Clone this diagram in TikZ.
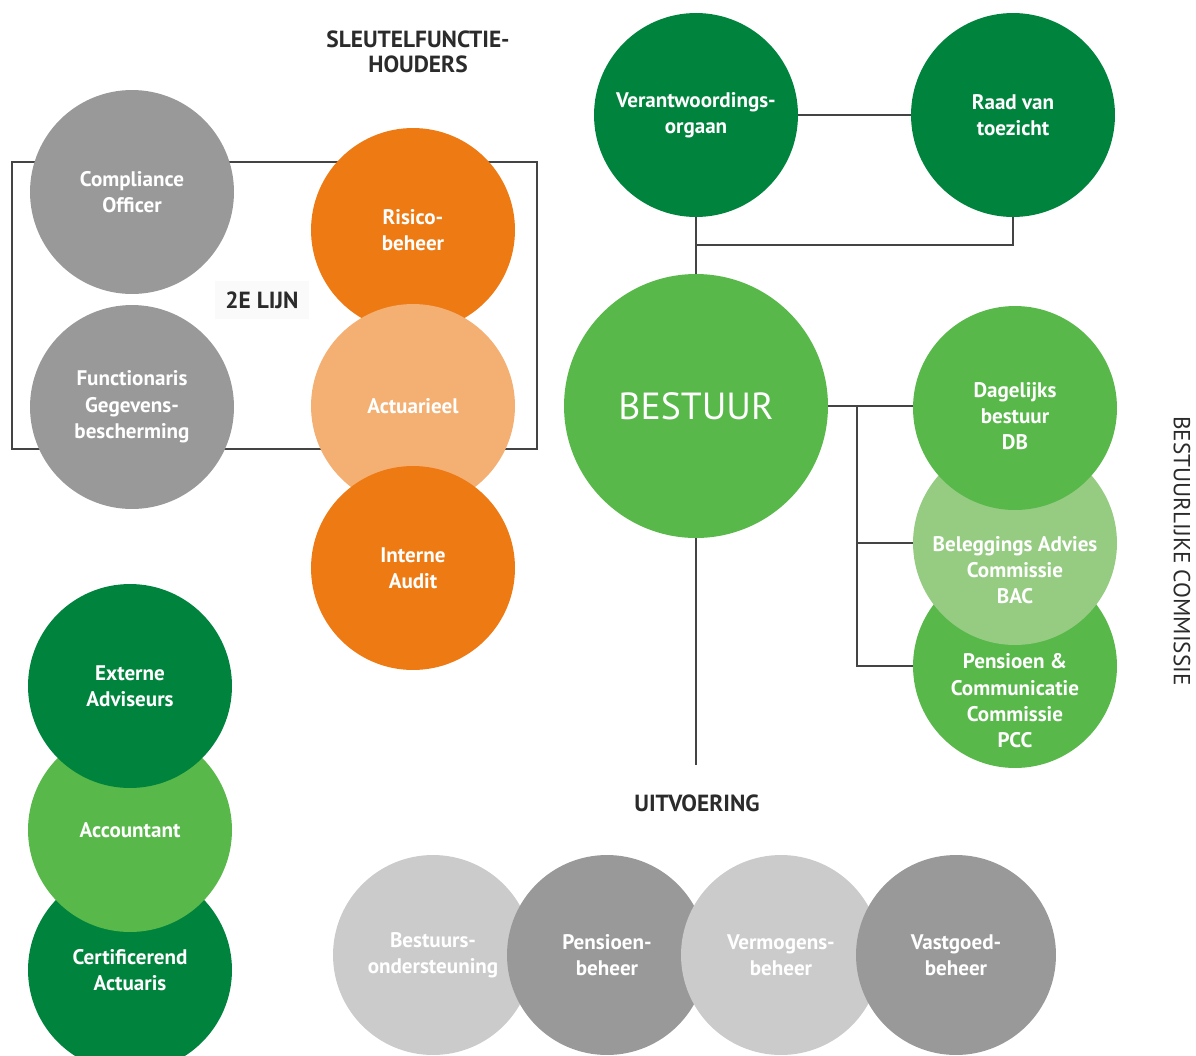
\documentclass[tikz,border=0pt]{standalone}
\usepackage{fontspec}
\setmainfont{PT Sans}
\definecolor{donkergroen}{HTML}{00843D}
\definecolor{middengroen}{HTML}{58B84A}
\definecolor{lichtgroen}{HTML}{95CC82}
\definecolor{oranje}{HTML}{EE7A14}
\definecolor{lichtoranje}{HTML}{F4AF72}
\definecolor{grijs}{HTML}{999999}
\definecolor{lichtgrijs}{HTML}{CBCBCB}
\definecolor{lijngrijs}{HTML}{444444}
\definecolor{tekstgrijs}{HTML}{2B2B2B}

\begin{document}
\begin{tikzpicture}[x=0.02cm, y=-0.02cm,
  tekst/.style={text=white, align=center, font=\bfseries\fontsize{12}{15}\selectfont},
  bol/.style={tekst, circle, minimum size=4.08cm, inner sep=0pt},
  kleinebol/.style={bol, minimum size=4cm},
  lijn/.style={draw=lijngrijs, line width=1.1pt},
  kop/.style={text=tekstgrijs, align=center, font=\bfseries\fontsize{13.3}{14.5}\selectfont}]
  \useasboundingbox (0,0) rectangle (1196,1055);

  \draw[lijn] (12,162) rectangle (537,449);

  \node[kop] (sleutel) at (418,52) {SLEUTELFUNCTIE-\\HOUDERS};
  \node[kop, fill=white!98!black, inner sep=6pt] (lijn2) at (262,300) {2E LIJN};
  \node[bol, fill=grijs] (compliance) at (132,192) {Compliance\\Officer};
  \node[bol, fill=grijs] (functionaris) at (132,407) {Functionaris\\Gegevens-\\bescherming};
  \node[bol, fill=oranje] (risico) at (413,230) {Risico-\\beheer};
  \node[bol, fill=lichtoranje] (actuarieel) at (413,406) {Actuarieel};
  \node[bol, fill=oranje] (audit) at (413,568) {Interne\\Audit};

  \node[bol, fill=donkergroen] (certificerend) at (130,970) {Certificerend\\Actuaris};
  \node[bol, fill=middengroen] (accountant) at (130,830) {Accountant};
  \node[bol, fill=donkergroen] (extern) at (130,686) {Externe\\Adviseurs};

  \node[bol, fill=donkergroen] (vo) at (696,115) {Verantwoordings-\\orgaan};
  \node[bol, fill=donkergroen] (rvt) at (1013,115) {Raad van\\toezicht};
  \node[bol, fill=middengroen, minimum size=5.28cm, font=\fontsize{21.5}{24}\selectfont] (bestuur) at (696,406) {BESTUUR};

  \node[bol, fill=middengroen] (pcc) at (1015,666) {};
  \node[tekst] (pcctekst) at (1015,701) {Pensioen \&\\Communicatie\\Commissie\\PCC};
  \node[bol, fill=lichtgroen] (bac) at (1015,543) {};
  \node[tekst] (bactekst) at (1015,570) {Beleggings Advies\\Commissie\\BAC};
  \node[bol, fill=middengroen] (db) at (1015,408) {};
  \node[tekst] (dbtekst) at (1015,416) {Dagelijks\\bestuur\\DB};
  \node[kop, font=\fontsize{13.2}{14}\selectfont, rotate=-90] (commissie) at (1182,551) {BESTUURLIJKE COMMISSIE};

  \node[kop] (uitvoering) at (697,803) {UITVOERING};
  \node[kleinebol, fill=lichtgrijs] (ondersteuning) at (433,955) {Bestuurs-\\ondersteuning};
  \node[kleinebol, fill=grijs] (pensioen) at (607,955) {Pensioen-\\beheer};
  \node[kleinebol, fill=lichtgrijs] (vermogen) at (781,955) {Vermogens-\\beheer};
  \node[kleinebol, fill=grijs] (vastgoed) at (956,955) {Vastgoed-\\beheer};

  \coordinate (knik) at (696,245);
  \coordinate (tak) at (857,406);
  \coordinate (einde) at (696,765);
  \draw[lijn] (vo) -- (rvt);
  \draw[lijn] (vo.south) -- (bestuur.north);
  \draw[lijn] (rvt.south) |- (knik);
  \draw[lijn] (bestuur.south) -- (einde);
  \draw[lijn] (bestuur.east) -- (db.west |- bestuur.east);
  \draw[lijn] (tak) |- (bac.west);
  \draw[lijn] (tak) |- (pcc.west);
\end{tikzpicture}
\end{document}
